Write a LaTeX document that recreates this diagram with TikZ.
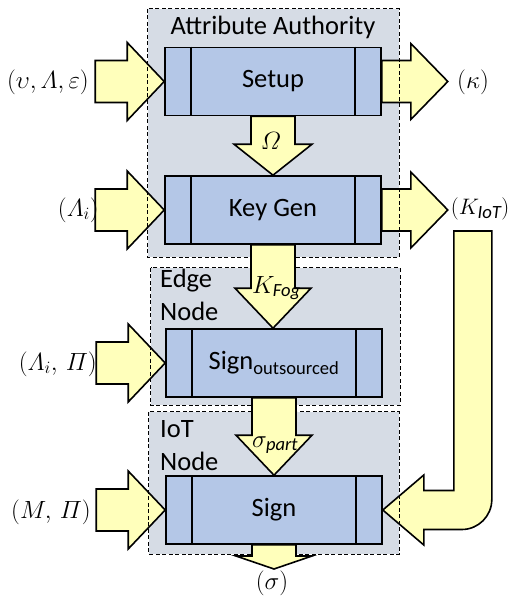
\documentclass[tikz,border=0pt]{standalone}
\usepackage{amsmath}
\usepackage{fontspec}
\setmainfont{Carlito}
\usetikzlibrary{calc}

\definecolor{boxblue}{HTML}{B4C7E7}
\definecolor{zonegray}{HTML}{D6DCE5}
\definecolor{arrowyellow}{HTML}{FFFFBB}

% block arrow entering a box from the left, tip on the box's west side
\newcommand\arrowin[1]{%
  \begin{scope}[shift={(#1.west)}]
    \draw[bigarrow] (0,0) -- (-37,-39) -- (-37,-21) -- (-69,-21) -- (-69,21)
      -- (-37,21) -- (-37,39) -- cycle;
  \end{scope}}
% block arrow leaving a box to the right
\newcommand\arrowout[1]{%
  \begin{scope}[shift={(#1.east)}]
    \draw[bigarrow] (0,-21) -- (29,-21) -- (29,-38) -- (66,0) -- (29,38)
      -- (29,21) -- (0,21) -- cycle;
  \end{scope}}
% downward block arrow from one box to the next: #3 head length, #4 head half width
\newcommand\arrowdown[4]{%
  \draw[bigarrow] let \p1=(#1.south), \p2=(#2) in
    (\x1-22pt,\y1) -- (\x1+22pt,\y1) -- (\x1+22pt,\y2+#3) -- (\x1+#4,\y2+#3)
    -- (\x1,\y2) -- (\x1-#4,\y2+#3) -- (\x1-22pt,\y2+#3) -- cycle;}

\begin{document}
\begin{tikzpicture}[x=1pt,y=-1pt,
  every node/.style={font=\fontsize{26.5}{32}\selectfont, inner sep=0pt},
  zonebox/.style={fill=zonegray, draw=none},
  zoneline/.style={draw=black, line width=1.2pt, dash pattern=on 4pt off 2.5pt},
  block/.style={draw=black, line width=1.6pt, fill=boxblue,
    minimum width=216pt, minimum height=68pt},
  bigarrow/.style={draw=black, line width=1.6pt, fill=arrowyellow, line join=miter},
  sublabel/.style={anchor=base west}]

\useasboundingbox (0,0) rectangle (510,602);

% grey zones
\node[zonebox, minimum width=251pt, minimum height=248pt] (aa) at (273.5,133) {};
\node[zonebox, minimum width=249pt, minimum height=137pt] (edge) at (275.5,336.5) {};
\node[zonebox, minimum width=250pt, minimum height=142pt] (iot) at (274,483) {};

% boxes (placed now, drawn again on top later)
\path (273,81.5) coordinate (csetup) (273,210) coordinate (ckey)
      (274,363) coordinate (csout) (274,510) coordinate (csign);
\node[block, draw=none, fill=none] (setup) at (csetup) {};
\node[block, draw=none, fill=none] (keygen) at (ckey) {};
\node[block, draw=none, fill=none] (signout) at (csout) {};
\node[block, draw=none, fill=none] (sign) at (csign) {};

% horizontal block arrows
\arrowin{setup}
\arrowin{keygen}
\arrowin{signout}
\arrowin{sign}
\arrowout{setup}
\arrowout{keygen}

% bent arrow carrying the IoT key back into Sign
\coordinate (kiottop) at (472,231);
\draw[bigarrow] let \p1=(sign.east), \p2=(kiottop) in
  (\x1,\y1) -- (\x1+41pt,\y1+35pt) -- (\x1+41pt,\y1+19.5pt) -- (\x1+71pt,\y1+19.5pt)
  -- (\x1+71pt,\y2) -- (\x1+109pt,\y2) -- (\x1+109pt,\y1-19.5pt+30pt)
  arc[start angle=0, end angle=-90, radius=30pt]
  -- (\x1+41pt,\y1-19.5pt) -- (\x1+41pt,\y1-35pt) -- cycle;

% dashed zone borders
\draw[zoneline] (aa.north west) rectangle (aa.south east);
\draw[zoneline] (edge.north west) rectangle (edge.south east);
\draw[zoneline] (iot.north west) rectangle (iot.south east);

% vertical block arrows
\arrowdown{setup}{keygen.north}{31pt}{39pt}
\arrowdown{keygen}{signout.north}{40pt}{38pt}
\arrowdown{signout}{sign.north}{40pt}{38pt}
\coordinate (sigtip) at (274,569);
\arrowdown{sign}{sigtip}{13pt}{38pt}

% process boxes
\foreach \b/\c in {setup/csetup, keygen/ckey, signout/csout, sign/csign} {
  \node[block] at (\c) {};
  \draw[line width=1.6pt] ([xshift=27pt]\b.north west) -- ([xshift=27pt]\b.south west);
  \draw[line width=1.6pt] ([xshift=-27pt]\b.north east) -- ([xshift=-27pt]\b.south east);
}
\node (tsetup) at (setup) {Setup};
\node (tkey) at (keygen) {Key Gen};
\node (tsout) at (signout) {$\text{Sign}_{\text{outsourced}}$};
\node (tsign) at (sign) {Sign};

% zone titles
\node[anchor=base] (taa) at (273,35) {Attribute Authority};
\node[anchor=base west] (tedge1) at (160,287) {Edge};
\node[anchor=base west] (tedge2) at (160,320) {Node};
\node[anchor=base west] (tiot1) at (160,437) {IoT};
\node[anchor=base west] (tiot2) at (160,470) {Node};

% inputs and outputs
\node[anchor=east] (in1) at (89,82) {$(\upsilon,\varLambda,\varepsilon)$};
\node[anchor=east] (in2) at (99,210) {$(\varLambda_{i})$};
\node[anchor=east] (in3) at (97,364) {$(\varLambda_{i},\,\varPi)$};
\node[anchor=east] (in4) at (91,512) {$(M,\,\varPi)$};
\node[anchor=west] (out1) at (457,82) {$(\kappa)$};
\node[anchor=east, font=\fontsize{24.88}{30}\selectfont, scale=0.9, transform shape]
  (out2) at (509.5,209) {$(K_{\textit{IoT}})$};
\node (omega) at (271,141) {$\varOmega$};
\node[sublabel] (kfog) at (252,293) {$K_{\textit{Fog}}$};
\node[sublabel] (spart) at (252,447) {$\sigma_{\textit{part}}$};
\node (sig) at (272,583) {$(\sigma)$};

\end{tikzpicture}
\end{document}
